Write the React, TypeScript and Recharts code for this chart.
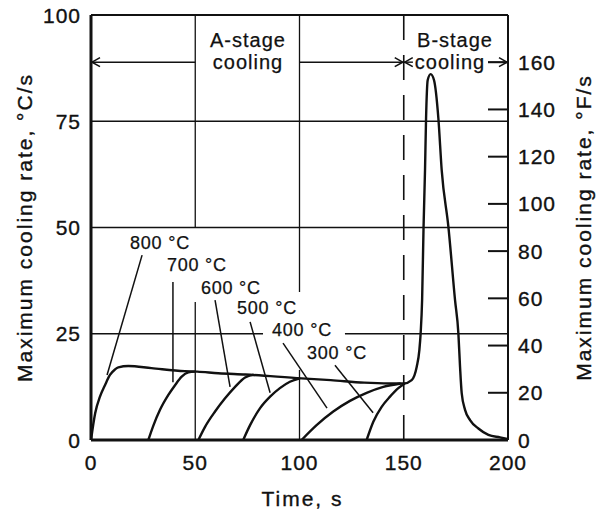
import React from 'react';
import { ComposedChart, Line, XAxis, YAxis, ReferenceLine, ReferenceDot, Label } from 'recharts';

const FONT = '"Liberation Sans", Arial, Helvetica, sans-serif';
const INK = '#111';
const TS = 0.35;

// axis ticks
const xTicks = [0, 50, 100, 150, 200];
const cTicks = [0, 25, 50, 75, 100];
const fTicks = [0, 20, 40, 60, 80, 100, 120, 140, 160];

// series: [time s, max cooling rate °C/s]
const curve800 = [
  [0, 0], [2, 6.3], [4.3, 10.2], [6.7, 12.9], [9.1, 15.3], [11.5, 16.6], [13.1, 17.1], [17.9, 17.4],
  [29, 16.9], [45, 16.2], [51, 16.1], [61, 15.7], [74, 15.4], [101, 14.5], [115, 14.1], [131, 13.5],
  [150, 13.3], [153.8, 14.1], [156.2, 17.2], [157.5, 21.2], [158.1, 25.1], [158.8, 32.9], [159.5, 50.2],
  [160.2, 63.5], [160.7, 75.7], [161.5, 84.7], [162.9, 86.1], [164.5, 84.7], [166.6, 75.7], [168.2, 63.5],
  [171.4, 50.2], [174.6, 32.9], [176.2, 25.1], [177, 17.2], [177.8, 11], [179.4, 7.1], [181.8, 4.7],
  [185.8, 2.7], [190.6, 1.2], [196.2, 0.6], [200, 0.2],
];
const curve700 = [[27.5, 0], [30, 3.5], [33.1, 7.1], [37.1, 10.6], [40.3, 12.9], [43.5, 14.9], [46.7, 15.9], [50, 16.1]];
const curve600 = [[51.5, 0], [54.7, 3.1], [59.5, 6.7], [64.3, 9.8], [69.1, 12.5], [73.9, 14.7], [78, 15.4]];
const curve500 = [[73, 0], [76.3, 3.5], [81.1, 7.5], [85.9, 10.2], [90.6, 12.2], [95.4, 13.7], [100.2, 14.5]];
const curve400 = [[101, 0], [108.2, 3.5], [116.2, 6.7], [124.2, 9.2], [132.2, 11.1], [140.2, 12.5], [148.5, 13.3]];
const curve300 = [[132.2, 0], [135.4, 4.3], [139.4, 7.8], [143.4, 10.2], [147.4, 12.2], [150.5, 13.3]];

const seriesList = [curve800, curve700, curve600, curve500, curve400, curve300];

// annotations (data coordinates)
const tempLabels = ['800 °C', '700 °C', '600 °C', '500 °C', '400 °C', '300 °C'];
const tempLabelT = [33.1, 50.8, 67.1, 84.4, 101.2, 118];
const tempLabelV = [46.4, 41.2, 35.8, 31.1, 25.9, 20.5];
const leaders = [
  [24.5, 43.5, 7.7, 15.3],
  [39.3, 37.2, 39.3, 13.6],
  [59.5, 32.9, 66.7, 12.5],
  [76.3, 27.8, 85.9, 11.1],
  [92.1, 22.8, 113.2, 7.5],
  [117, 17.6, 135.3, 6.4],
];
const stageTexts = ['A-stage', 'cooling', 'B-stage', 'cooling'];
const stageT = [75.3, 75.3, 174.6, 172.2];
const stageV = [94.1, 88.9, 94.1, 88.9];
const arrowV = 88.9;
const arrowSegs = [
  [0, 50, 1, 0],
  [100, 150, 0, 1],
  [150, 154.4, 1, 0],
  [190.4, 200, 0, 1],
];
// grid segments [x1,y1,x2,y2]
const gridSegs = [
  [0, 25, 82.5, 25],
  [121.8, 25, 200, 25],
  [50, 100, 50, 50],
  [50, 32.5, 50, 0],
  [100, 100, 100, 34.8],
  [100, 16.5, 100, 0],
];

const toPts = (arr: number[][]) => arr.map(([t, v]) => ({ t, v }));

const XTick = (p: any) => (
  <text x={p.x} y={p.y + 30} textAnchor="middle" fontFamily={FONT} fontSize={21} fill={INK} stroke={INK} strokeWidth={TS} letterSpacing={1}>
    {p.payload.value}
  </text>
);
const LTick = (p: any) => (
  <text x={p.x - 10} y={p.y + 7.5} textAnchor="end" fontFamily={FONT} fontSize={21} fill={INK} stroke={INK} strokeWidth={TS} letterSpacing={1}>
    {p.payload.value}
  </text>
);
const RTick = (p: any) => (
  <g>
    <line x1={p.x - 20} y1={p.y} x2={p.x} y2={p.y} stroke={INK} strokeWidth={2} />
    <text x={p.x + 10} y={p.y + 7.5} textAnchor="start" fontFamily={FONT} fontSize={21} fill={INK} stroke={INK} strokeWidth={TS} letterSpacing={1}>
      {p.payload.value}
    </text>
  </g>
);

const arrowShape = (hs: boolean, he: boolean) => (p: any) => {
  const { x1, y1, x2, y2 } = p;
  return (
    <g>
      <line x1={x1} y1={y1} x2={x2} y2={y2} stroke={INK} strokeWidth={1.4} />
      {hs && (
        <polyline points={`${x1 + 9},${y1 - 4.5} ${x1 + 1},${y1} ${x1 + 9},${y1 + 4.5}`} fill="none" stroke={INK} strokeWidth={1.6} />
      )}
      {he && (
        <polyline points={`${x2 - 9},${y2 - 4.5} ${x2 - 1},${y2} ${x2 - 9},${y2 + 4.5}`} fill="none" stroke={INK} strokeWidth={1.6} />
      )}
    </g>
  );
};

const textShape = (txt: string, size: number, ls: number) => (p: any) => (
  <text x={p.cx} y={p.cy} dy="0.36em" textAnchor="middle" fontFamily={FONT} fontSize={size} fill={INK} stroke={INK} strokeWidth={0.25} letterSpacing={ls}>
    {txt}
  </text>
);

const vTitle = (txt: string, dx: number) => (props: any) => {
  const vb = props.viewBox;
  const cx = dx >= 0 ? vb.x + dx : vb.x + vb.width + dx;
  const cy = vb.y + vb.height / 2;
  return (
    <text x={cx} y={cy} dy="0.36em" transform={`rotate(-90 ${cx} ${cy})`} textAnchor="middle" fontFamily={FONT} fontSize={21} fill={INK} stroke={INK} strokeWidth={TS} letterSpacing={2}>
      {txt}
    </text>
  );
};
const xTitle = (props: any) => {
  const vb = props.viewBox;
  const cx = vb.x + vb.width / 2 + 3;
  return (
    <text x={cx} y={506} textAnchor="middle" fontFamily={FONT} fontSize={21} fill={INK} stroke={INK} strokeWidth={TS} letterSpacing={2}>
      Time, s
    </text>
  );
};

export default function App() {
  return (
    <div style={{ position: 'absolute', left: 0, top: 0, width: 607, height: 513, background: '#fff' }}>
      <ComposedChart width={607} height={513} margin={{ top: 15, right: 0, bottom: 0, left: 0 }}>
        <XAxis
          dataKey="t"
          type="number"
          domain={[0, 200]}
          ticks={xTicks}
          interval={0}
          height={73}
          tickSize={0}
          tickMargin={0}
          tickLine={false}
          axisLine={{ stroke: INK, strokeWidth: 3 }}
          tick={<XTick />}
        >
          <Label content={xTitle} />
        </XAxis>
        <YAxis
          yAxisId="c"
          type="number"
          domain={[0, 100]}
          ticks={cTicks}
          interval={0}
          width={91}
          tickSize={0}
          tickMargin={0}
          tickLine={false}
          axisLine={{ stroke: INK, strokeWidth: 3 }}
          tick={<LTick />}
        >
          <Label content={vTitle('Maximum cooling rate, °C/s', 24)} />
        </YAxis>
        <YAxis
          yAxisId="f"
          orientation="right"
          type="number"
          domain={[0, 180]}
          allowDataOverflow
          ticks={fTicks}
          interval={0}
          width={99}
          tickSize={0}
          tickMargin={0}
          tickLine={false}
          axisLine={{ stroke: INK, strokeWidth: 2 }}
          tick={<RTick />}
        >
          <Label content={vTitle('Maximum cooling rate, °F/s', -24)} />
        </YAxis>

        <ReferenceLine yAxisId="c" y={100} stroke={INK} strokeWidth={2} />
        <ReferenceLine yAxisId="c" y={75} stroke={INK} strokeWidth={1.3} />
        <ReferenceLine yAxisId="c" y={50} stroke={INK} strokeWidth={1.3} />
        <ReferenceLine yAxisId="c" x={150} stroke={INK} strokeWidth={1.6} strokeDasharray="25 15" />
        {gridSegs.map((s, i) => (
          <ReferenceLine
            key={'g' + i}
            yAxisId="c"
            segment={[{ x: s[0], y: s[1] }, { x: s[2], y: s[3] }]}
            stroke={INK}
            strokeWidth={1.3}
          />
        ))}
        {leaders.map((s, i) => (
          <ReferenceLine
            key={'l' + i}
            yAxisId="c"
            segment={[{ x: s[0], y: s[1] }, { x: s[2], y: s[3] }]}
            stroke={INK}
            strokeWidth={1.5}
          />
        ))}
        {arrowSegs.map((s, i) => (
          <ReferenceLine
            key={'a' + i}
            yAxisId="c"
            segment={[{ x: s[0], y: arrowV }, { x: s[1], y: arrowV }]}
            shape={arrowShape(s[2] === 1, s[3] === 1)}
          />
        ))}

        {seriesList.map((s, i) => (
          <Line
            key={'s' + i}
            yAxisId="c"
            data={toPts(s)}
            dataKey="v"
            type="monotone"
            stroke={INK}
            strokeWidth={2.4}
            dot={false}
            activeDot={false}
            isAnimationActive={false}
          />
        ))}

        {tempLabels.map((txt, i) => (
          <ReferenceDot
            key={'t' + i}
            yAxisId="c"
            x={tempLabelT[i]}
            y={tempLabelV[i]}
            r={1}
            shape={textShape(txt, 18, 0.8)}
          />
        ))}
        {stageTexts.map((txt, i) => (
          <ReferenceDot
            key={'st' + i}
            yAxisId="c"
            x={stageT[i]}
            y={stageV[i]}
            r={1}
            shape={textShape(txt, 20, 1)}
          />
        ))}
      </ComposedChart>
    </div>
  );
}
